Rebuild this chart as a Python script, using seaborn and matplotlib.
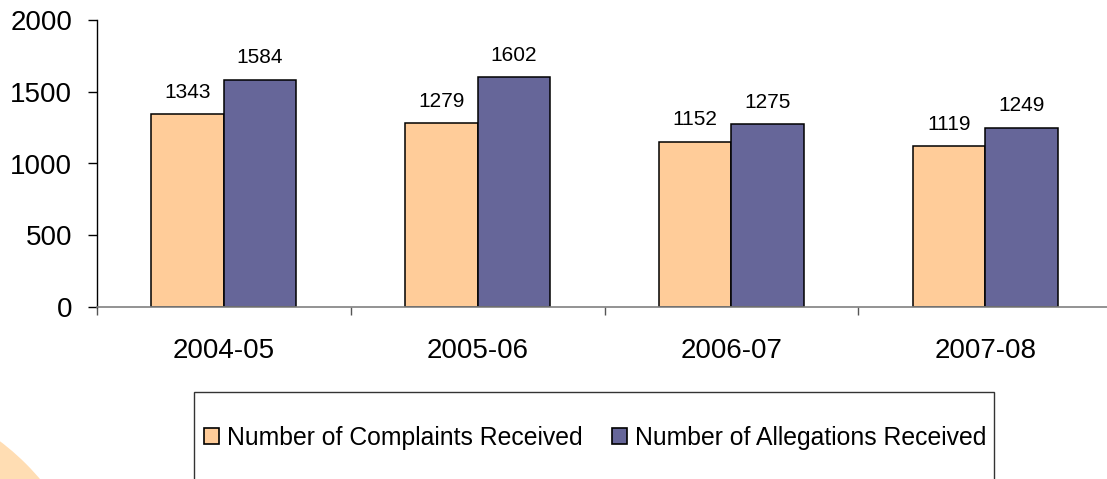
import matplotlib
matplotlib.use('Agg')
import matplotlib.pyplot as plt
import seaborn as sns
import pandas as pd
from matplotlib.patches import Patch, Rectangle, Ellipse

# ---- data ----
years = ['2004-05', '2005-06', '2006-07', '2007-08']
complaints = [1343, 1279, 1152, 1119]
allegations = [1584, 1602, 1275, 1249]
series_names = ['Number of Complaints Received', 'Number of Allegations Received']
colors = ['#FFCC99', '#666699']
y_ticks = [0, 500, 1000, 1500, 2000]

df = pd.DataFrame({
    'Year': years * 2,
    'Value': complaints + allegations,
    'Series': [series_names[0]] * len(years) + [series_names[1]] * len(years),
})

sns.set_theme(style='white')
plt.rcParams['font.family'] = ['Liberation Sans', 'DejaVu Sans']

W, H = 1107, 479
fig = plt.figure(figsize=(W / 100, H / 100), dpi=100)

# faint background decoration (bottom-left)
fig.add_artist(Ellipse(((-150) / W, 1 - 640 / H), 2 * 249 / W, 2 * 249 / H,
                       transform=fig.transFigure, facecolor='#FFDDB3',
                       edgecolor='none', zorder=0))

ax = fig.add_axes([97 / W, (H - 307) / H, (1112 - 97) / W, (307 - 20) / H])
ax.patch.set_alpha(0)

sns.barplot(data=df, x='Year', y='Value', hue='Series', hue_order=series_names,
            palette=colors, width=0.571, edgecolor='black', linewidth=1.1,
            saturation=1, errorbar=None, legend=False, ax=ax)

for c in ax.containers:
    ax.bar_label(c, fmt='%d', padding=9, fontsize=15, color='black')

ax.set_xlim(-0.5, 3.5)
ax.set_ylim(0, 2000)
ax.set_yticks(y_ticks)
ax.set_xlabel('')
ax.set_ylabel('')

ax.tick_params(axis='y', left=True, length=6.5, width=1, color='black',
               labelsize=20, pad=11.5, labelcolor='black')
ax.tick_params(axis='x', which='major', bottom=True, length=0, labelsize=20,
               pad=22, labelcolor='black')
ax.set_xticks([-0.5, 0.5, 1.5, 2.5, 3.5], minor=True)
ax.tick_params(axis='x', which='minor', bottom=True, length=6, width=1,
               color='#555555')

for s in ['top', 'right']:
    ax.spines[s].set_visible(False)
ax.spines['left'].set_color('black')
ax.spines['left'].set_linewidth(1)
ax.spines['bottom'].set_color('#808080')
ax.spines['bottom'].set_linewidth(1.2)

# legend frame (extends beyond bottom edge)
fig.add_artist(Rectangle((194 / W, -0.1), (994 - 194) / W, (H - 392) / H + 0.1,
                         transform=fig.transFigure, fill=False,
                         edgecolor='#333333', linewidth=1))

handles = [Patch(facecolor=col, edgecolor='black', linewidth=1.2) for col in colors]
fig.legend(handles, series_names, loc='center',
           bbox_to_anchor=(595.5 / W, (H - 438) / H), ncol=2, frameon=False,
           fontsize=17.8, labelcolor='black', handlelength=0.6, handleheight=0.6,
           handletextpad=0.33, columnspacing=1.2, borderpad=0)

fig.savefig('out.png', dpi=100)
